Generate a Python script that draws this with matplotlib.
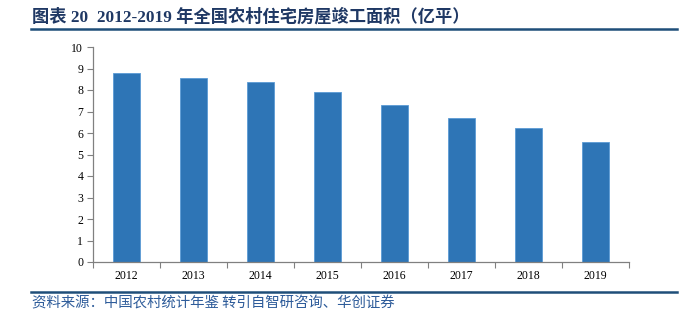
import matplotlib
matplotlib.use("Agg")
import matplotlib.pyplot as plt
import numpy as np

years = ["2012", "2013", "2014", "2015", "2016", "2017", "2018", "2019"]
area = [8.77, 8.58, 8.37, 7.93, 7.31, 6.69, 6.23, 5.56]
yticks = list(range(0, 11))

title = "图表 20  2012-2019 年全国农村住宅房屋竣工面积（亿平）"
source = "资料来源：中国农村统计年鉴 转引自智研咨询、华创证券"

W, H = 681, 323
fig = plt.figure(figsize=(W / 100, H / 100), dpi=100)
ax = fig.add_axes([93 / W, 1 - 262 / H, (629 - 93) / W, (262 - 47) / H])

x = np.arange(len(years))
ax.bar(x, area, width=0.4, color="#2E75B6", edgecolor="#5B9BD5", linewidth=0.6, zorder=2)

ax.set_xlim(-0.5, len(years) - 0.5)
ax.set_ylim(0, 10)
ax.set_yticks(yticks)
ax.set_yticklabels([str(v) for v in yticks], family="Liberation Serif", fontsize=8.5)

# category labels centred under bars, tick marks on category boundaries
ax.set_xticks(np.arange(-0.5, len(years) + 0.5, 1.0))
ax.set_xticklabels([])
ax.set_xticks(x, minor=True)
ax.set_xticklabels(years, minor=True, family="Liberation Serif", fontsize=8.5)
ax.tick_params(axis="x", which="major", direction="out", length=4, color="#808080", width=0.8)
ax.tick_params(axis="x", which="minor", length=0, pad=6)
ax.tick_params(axis="y", direction="out", length=4, color="#808080", width=0.8, pad=3)

for s in ("top", "right"):
    ax.spines[s].set_visible(False)
for s in ("left", "bottom"):
    ax.spines[s].set_color("#808080")
    ax.spines[s].set_linewidth(0.9)

# header and footer rules
fig.add_artist(plt.Line2D([31 / W, 677 / W], [1 - 29 / H, 1 - 29 / H], color="#1F4E79", linewidth=1.8))
fig.add_artist(plt.Line2D([31 / W, 677 / W], [1 - 292 / H, 1 - 292 / H], color="#1F4E79", linewidth=1.8))

fig.text(32 / W, 1 - 17 / H, title, family=["Liberation Serif", "Noto Sans CJK SC"],
         fontweight="bold", fontsize=12.4, color="#1F3864", va="center", ha="left")
fig.text(32 / W, 1 - 303 / H, source, family=["Noto Sans CJK SC"],
         fontsize=10.4, color="#2E5C9A", va="center", ha="left", style="italic")

fig.savefig("out.png", dpi=100)
